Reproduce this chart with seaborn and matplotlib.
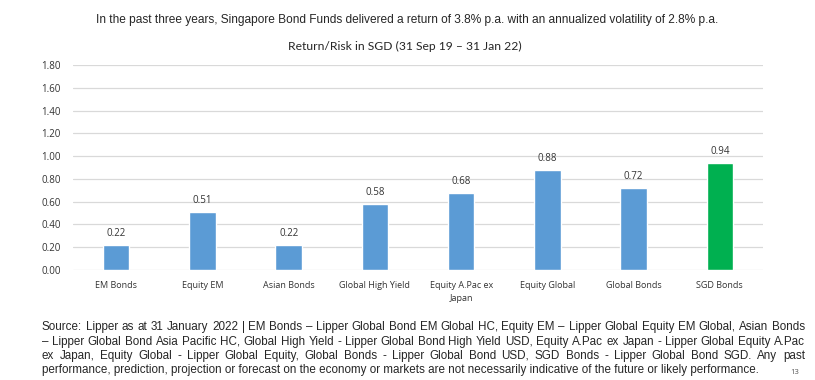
import math
import matplotlib
matplotlib.use("Agg")
import matplotlib.pyplot as plt
import seaborn as sns
import pandas as pd
from matplotlib.font_manager import FontProperties

categories = ["EM Bonds", "Equity EM", "Asian Bonds", "Global High Yield",
              "Equity A.Pac ex\nJapan", "Equity Global", "Global Bonds", "SGD Bonds"]
values = [0.22, 0.51, 0.22, 0.58, 0.68, 0.88, 0.72, 0.94]
yticks = [0.0, 0.2, 0.4, 0.6, 0.8, 1.0, 1.2, 1.4, 1.6, 1.8]

title = "In the past three years, Singapore Bond Funds delivered a return of 3.8% p.a. with an annualized volatility of 2.8% p.a."
subtitle = "Return/Risk in SGD (31 Sep 19 \u2013 31 Jan 22)"
footnote = [
    "Source: Lipper as at 31 January 2022 | EM Bonds \u2013 Lipper Global Bond EM Global HC, Equity EM \u2013 Lipper Global Equity EM Global, Asian Bonds",
    "\u2013 Lipper Global Bond Asia Pacific HC, Global High Yield - Lipper Global Bond High Yield USD, Equity A.Pac ex Japan - Lipper Global Equity A.Pac",
    "ex Japan, Equity Global - Lipper Global Equity, Global Bonds - Lipper Global Bond USD, SGD Bonds - Lipper Global Bond SGD. Any past",
    "performance, prediction, projection or forecast on the economy or markets are not necessarily indicative of the future or likely performance.",
]

sns.set_theme(style="white")
plt.rcParams['font.family'] = ["Open Sans", "DejaVu Sans"]
narrow = ["Liberation Sans", "DejaVu Sans"]

df = pd.DataFrame({"cat": categories, "val": values})
colors = ["#5B9BD5"] * 7 + ["#00B050"]

W, H = 815, 380
fig = plt.figure(figsize=(8.15, 3.8), dpi=100)
ax = fig.add_axes([73 / W, 1 - 270 / H, 690 / W, 205 / H])
sns.barplot(data=df, x="cat", y="val", hue="cat", palette=colors, legend=False,
            width=0.31, ax=ax, saturation=1)
ax.set_ylim(0, 1.8)
ax.set_yticks(yticks)
ax.set_yticklabels([f"{v:.2f}" for v in yticks], fontsize=7, color="#333333")
ax.set_xlim(-0.5, 7.5)
ax.tick_params(axis="x", labelsize=6.5, colors="#333333", length=0, pad=8)
ax.tick_params(axis="y", length=0, pad=9)
ax.set_xlabel("")
ax.set_ylabel("")
ax.yaxis.grid(True, color="#D9D9D9", linewidth=0.9)
ax.set_axisbelow(True)
for s in ax.spines.values():
    s.set_visible(False)
for lbl in ax.get_xticklabels():
    lbl.set_linespacing(1.5)
for i, v in enumerate(values):
    ax.text(i, v + 0.05, f"{v:.2f}", ha="center", va="bottom", fontsize=7, color="#333333")

fig.text(407 / W, 1 - 20 / H, title, ha="center", va="center", fontsize=8.6, family=narrow)
fig.text(405 / W, 1 - 46 / H, subtitle, ha="center", va="center", fontsize=8.7,
         family=["Lato", "DejaVu Sans"])

# justified footnote: one text per word, sub-pixel baseline correction
renderer = fig.canvas.get_renderer()
x0, x1 = 42, 805
ys = [330, 345, 359, 373]
fs = 8.4
prop = FontProperties(family=narrow, size=fs)


def metrics(s):
    return renderer.get_text_width_height_descent(s, prop, ismath=False)


for k, (line, y) in enumerate(zip(footnote, ys)):
    if k == len(footnote) - 1:
        fig.text(x0 / W, (H - y) / H, line, ha="left", va="baseline", fontsize=fs, family=narrow)
        continue
    words = line.split(" ")
    objs = []
    widths = []
    for wd in words:
        t = fig.text(0, 0, wd, ha="left", va="baseline", fontsize=fs, family=narrow)
        widths.append(t.get_window_extent(renderer).width)
        _, h, d = metrics(wd)
        delta = math.floor(h) - math.floor(h - d) - d
        t.set_y((H - y - delta) / H)
        objs.append(t)
    gap = ((x1 - x0) - sum(widths)) / (len(words) - 1)
    xx = x0
    for o, w in zip(objs, widths):
        o.set_x(xx / W)
        xx += w + gap
fig.text(795 / W, 1 - 372 / H, "13", ha="center", va="center", fontsize=5.5, color="#555555")

fig.savefig("out.png", dpi=100)
